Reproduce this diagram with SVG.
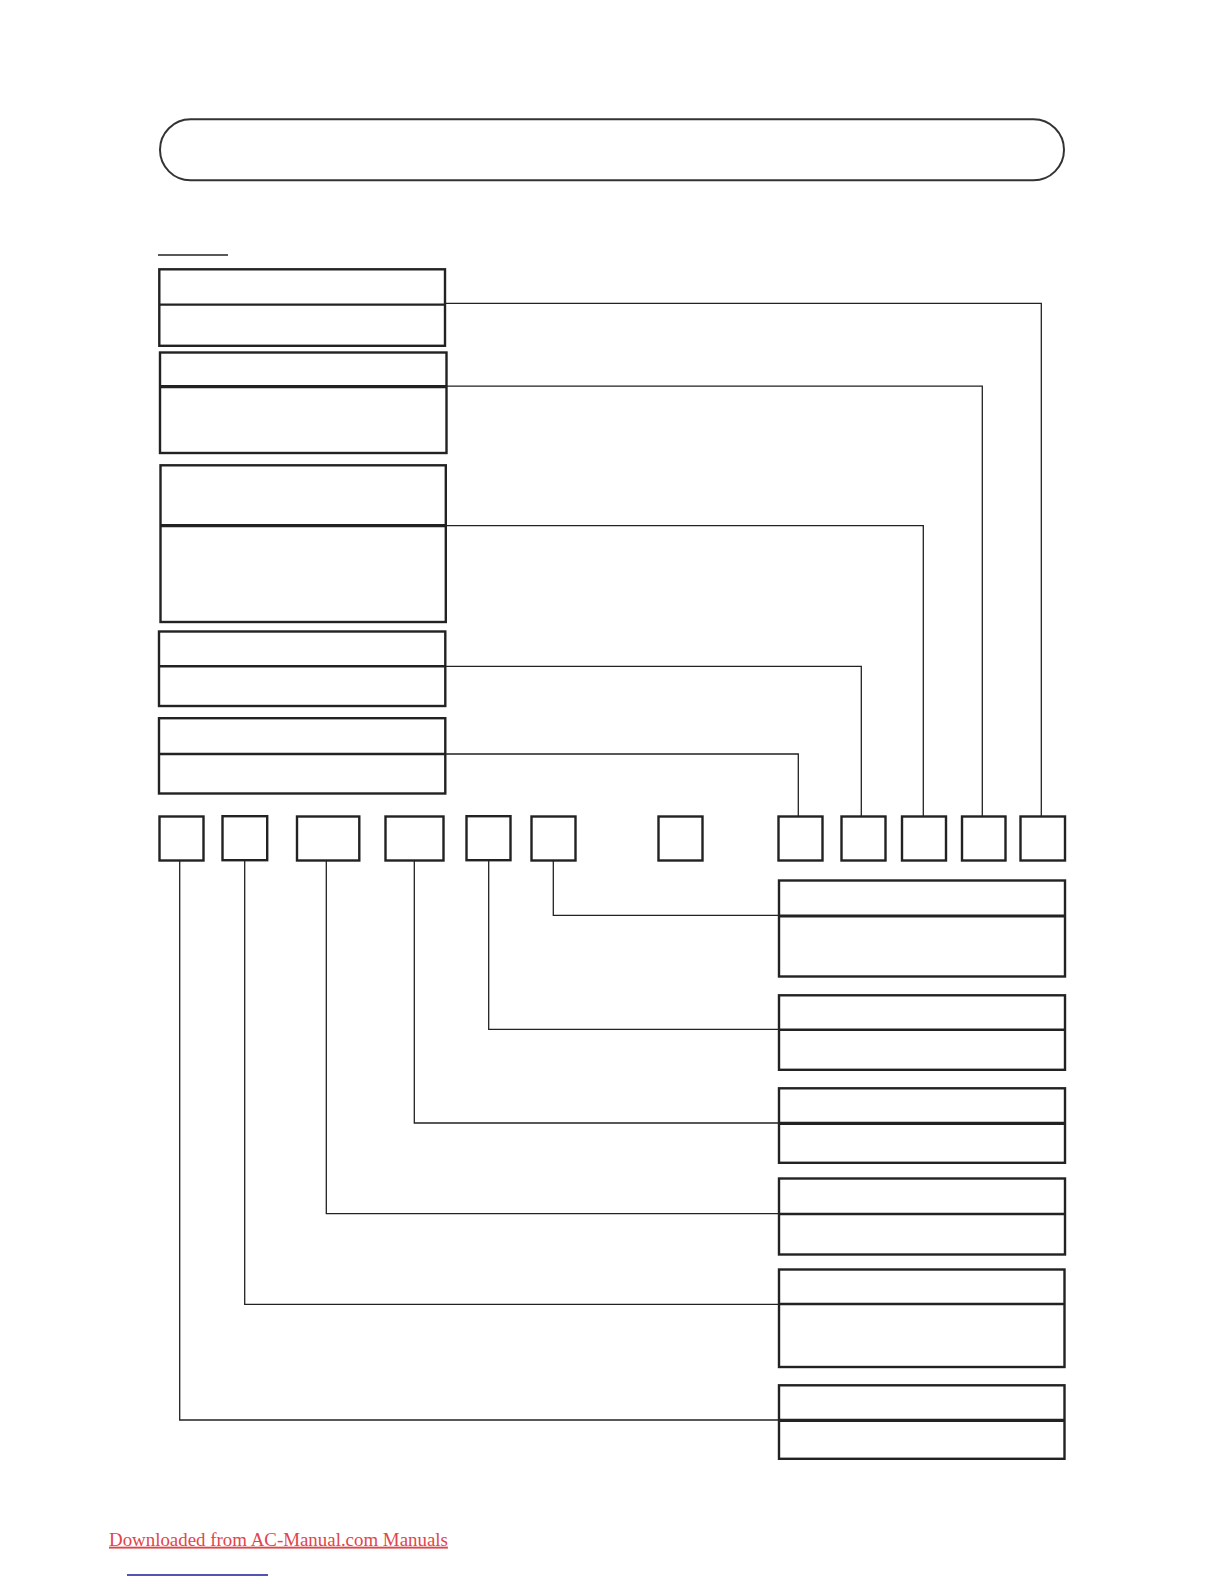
<svg xmlns="http://www.w3.org/2000/svg" width="1224" height="1584" viewBox="0 0 1224 1584">
<style>
.box{fill:none;stroke:#222;stroke-width:2.4}
.div{stroke:#222;stroke-width:2.4}
.thick{stroke:#222;stroke-width:3.2}
.conn{fill:none;stroke:#222;stroke-width:1.3}
.link{font-family:"Liberation Serif","Times New Roman",serif;font-size:18.9px;fill:#e0454a}
</style>
<rect x="0" y="0" width="1224" height="1584" fill="#fff"/>
<g id="title-pill"><rect x="160" y="119.3" width="904" height="61" rx="30.5" ry="30.5" fill="none" stroke="#333" stroke-width="2"/></g>
<g id="heading-underline"><line x1="158" y1="255" x2="228" y2="255" stroke="#222" stroke-width="1.3"/></g>

<g id="L1"><rect class="box" x="159.3" y="269.3" width="285.7" height="76.5"/><line class="div" x1="159.3" y1="304.6" x2="445" y2="304.6"/></g>
<g id="L2"><rect class="box" x="160" y="352.5" width="286.5" height="100.5"/><line class="thick" x1="160" y1="386.6" x2="446.5" y2="386.6"/></g>
<g id="L3"><rect class="box" x="160.5" y="465.3" width="285.3" height="156.7"/><line class="thick" x1="160.5" y1="525.7" x2="445.8" y2="525.7"/></g>
<g id="L4"><rect class="box" x="159" y="631.5" width="286.3" height="74.5"/><line class="div" x1="159" y1="666.2" x2="445.3" y2="666.2"/></g>
<g id="L5"><rect class="box" x="159" y="718.2" width="286.3" height="75.3"/><line class="div" x1="159" y1="754" x2="445.3" y2="754"/></g>

<g id="S1"><rect class="box" x="159.5" y="816.5" width="44" height="44"/></g>
<g id="S2"><rect class="box" x="222.5" y="816.2" width="44.7" height="44"/></g>
<g id="S3"><rect class="box" x="297" y="816.5" width="62.3" height="44"/></g>
<g id="S4"><rect class="box" x="385.5" y="816.5" width="58" height="44"/></g>
<g id="S5"><rect class="box" x="466.5" y="816.2" width="44" height="44"/></g>
<g id="S6"><rect class="box" x="531.5" y="816.5" width="44" height="44"/></g>
<g id="S7"><rect class="box" x="658.5" y="816.5" width="44" height="44"/></g>
<g id="S8"><rect class="box" x="778.5" y="816.5" width="44" height="44"/></g>
<g id="S9"><rect class="box" x="841.5" y="816.5" width="44" height="44"/></g>
<g id="S10"><rect class="box" x="902" y="816.5" width="44" height="44"/></g>
<g id="S11"><rect class="box" x="962" y="816.5" width="43.5" height="44"/></g>
<g id="S12"><rect class="box" x="1020.5" y="816.5" width="44.5" height="44"/></g>

<g id="R1"><rect class="box" x="779" y="880.5" width="286" height="96"/><line class="thick" x1="779" y1="916" x2="1065" y2="916"/></g>
<g id="R2"><rect class="box" x="779" y="995.3" width="286" height="74.5"/><line class="div" x1="779" y1="1029.7" x2="1065" y2="1029.7"/></g>
<g id="R3"><rect class="box" x="779" y="1088.3" width="286" height="74.5"/><line class="thick" x1="779" y1="1123.3" x2="1065" y2="1123.3"/></g>
<g id="R4"><rect class="box" x="779" y="1178.5" width="286" height="76"/><line class="div" x1="779" y1="1214" x2="1065" y2="1214"/></g>
<g id="R5"><rect class="box" x="779" y="1269.5" width="285.5" height="97.5"/><line class="div" x1="779" y1="1304" x2="1064.5" y2="1304"/></g>
<g id="R6"><rect class="box" x="779" y="1385.3" width="285.5" height="73.5"/><line class="thick" x1="779" y1="1420.3" x2="1064.5" y2="1420.3"/></g>

<g id="connectors">
<polyline class="conn" points="445,303.4 1041.3,303.4 1041.3,816.5"/>
<polyline class="conn" points="446.5,386.2 982.3,386.2 982.3,816.5"/>
<polyline class="conn" points="445.8,525.7 923.3,525.7 923.3,816.5"/>
<polyline class="conn" points="445.3,666.3 861.3,666.3 861.3,816.5"/>
<polyline class="conn" points="445.3,754 798.3,754 798.3,816.5"/>
<polyline class="conn" points="553.3,860.5 553.3,915.4 779,915.4"/>
<polyline class="conn" points="488.7,860.2 488.7,1029.4 779,1029.4"/>
<polyline class="conn" points="414.3,860.5 414.3,1123 779,1123"/>
<polyline class="conn" points="326.3,860.5 326.3,1213.6 779,1213.6"/>
<polyline class="conn" points="244.7,860.2 244.7,1304.3 779,1304.3"/>
<polyline class="conn" points="179.7,860.5 179.7,1420 779,1420"/>
</g>

<g id="footer">
<text class="link" x="109" y="1545.7" text-decoration="underline">Downloaded from AC-Manual.com Manuals</text>
<line x1="127" y1="1575" x2="268" y2="1575" stroke="#1a1a9a" stroke-width="1.4"/>
</g>
</svg>
